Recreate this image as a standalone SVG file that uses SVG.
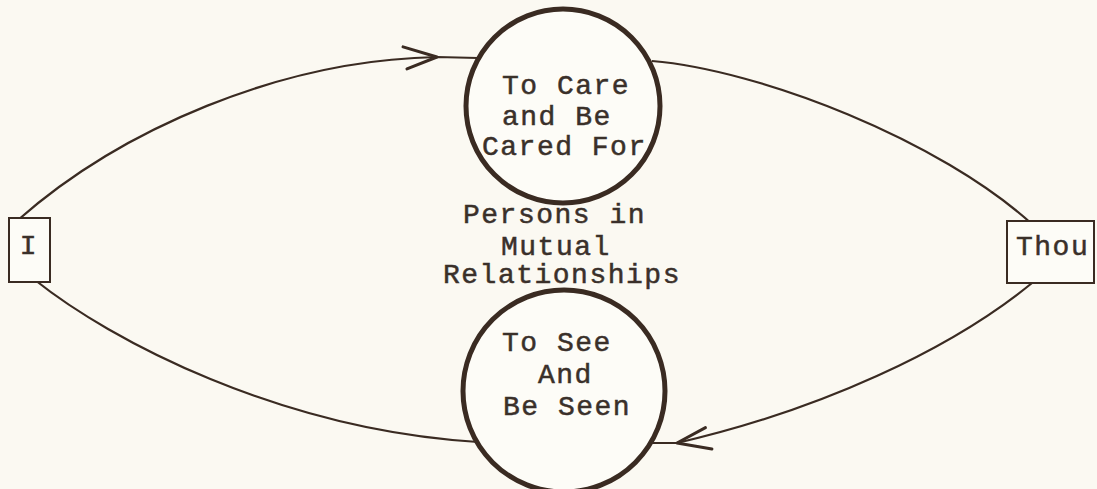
<svg xmlns="http://www.w3.org/2000/svg" width="1097" height="489" viewBox="0 0 1097 489">
<style>
.bg{fill:#fbf9f2}
.box{fill:#fdfcf7;stroke:#3a2b22;stroke-width:2}
.circ{fill:#fdfcf7;stroke:#3a2b22;stroke-width:5}
.con{fill:none;stroke:#3a2b22;stroke-width:2.2}
.t{font-family:"Liberation Mono","Courier New",monospace;font-size:28px;letter-spacing:1.5px;fill:#3a302a;stroke:#3a302a;stroke-width:0.5}
</style>
<defs>
<marker id="arr" viewBox="-40 -16 44 32" markerWidth="44" markerHeight="32" refX="0" refY="0" orient="auto" markerUnits="userSpaceOnUse">
<path d="M-34,-10 L0,0 L-30,12" fill="none" stroke="#3a2b22" stroke-width="3" stroke-linecap="round" stroke-linejoin="round"/>
</marker>
</defs>
<rect class="bg" x="0" y="0" width="1097" height="489"/>
<g id="connectors">
<path class="con" d="M18,220 C120,130 280,60 437,57 L478,58" marker-mid="url(#arr)"/>
<path class="con" d="M652,61 C760,70 940,140 1033,225"/>
<path class="con" d="M35,280 C110,340 280,430 478,442"/>
<path class="con" d="M1032,283 C950,350 820,410 677,443 L650,443" marker-mid="url(#arr)"/>
</g>
<g id="node-care">
<circle class="circ" cx="563" cy="106" r="97"/>
<text class="t" x="502" y="94">To Care</text>
<text class="t" x="502" y="125">and Be</text>
<text class="t" x="482" y="155">Cared For</text>
</g>
<g id="node-see">
<circle class="circ" cx="564" cy="391" r="101"/>
<text class="t" x="502" y="351">To See</text>
<text class="t" x="538" y="383">And</text>
<text class="t" x="503" y="415">Be Seen</text>
</g>
<g id="label-center">
<text class="t" x="463" y="223">Persons in</text>
<text class="t" x="501" y="255">Mutual</text>
<text class="t" x="443" y="283">Relationships</text>
</g>
<g id="node-i">
<rect class="box" x="9" y="218" width="41" height="64"/>
<text class="t" x="29" y="254" text-anchor="middle">I</text>
</g>
<g id="node-thou">
<rect class="box" x="1007" y="221" width="87" height="62"/>
<text class="t" x="1016" y="255">Thou</text>
</g>
</svg>
